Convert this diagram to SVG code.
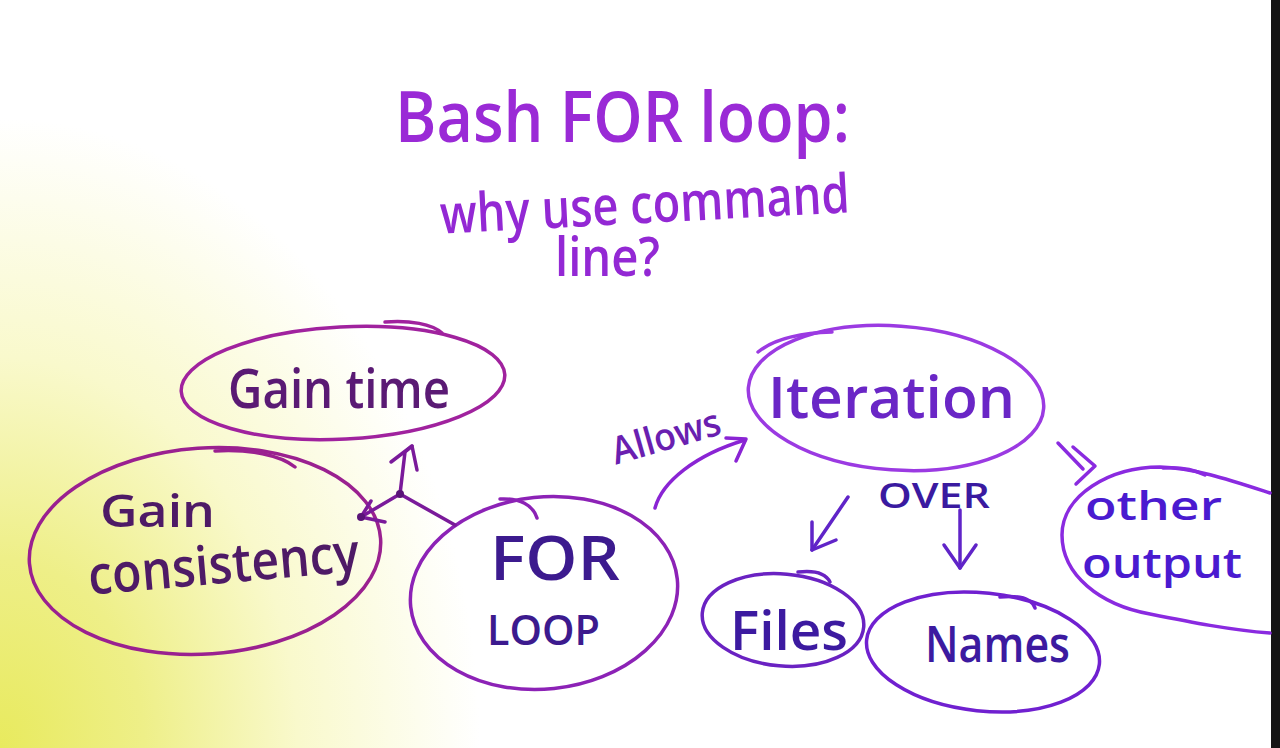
<svg xmlns="http://www.w3.org/2000/svg" width="1280" height="748" viewBox="0 0 1280 748">
<defs>
<radialGradient id="bg" gradientUnits="userSpaceOnUse" cx="0" cy="748" r="600" gradientTransform="translate(0,748) scale(0.8,1.05) translate(0,-748)">
<stop offset="0" stop-color="#e8ea5e"/>
<stop offset="0.3" stop-color="#eeef88"/>
<stop offset="0.62" stop-color="#f9f9cc"/>
<stop offset="1" stop-color="#ffffff"/>
</radialGradient>
<style>
.hand{font-family:"Open Sans","Liberation Sans",sans-serif;font-weight:600}
.node{fill:none;stroke-width:3.5;stroke-linecap:round;stroke-linejoin:round}
.conn{fill:none;stroke-width:3.5;stroke-linecap:round;stroke-linejoin:round}
</style>
</defs>
<rect width="1280" height="748" fill="#ffffff"/>
<rect width="1280" height="748" fill="url(#bg)"/>
<rect x="1271" y="0" width="9" height="748" fill="#151515"/>

<g id="title">
<text class="hand" x="395" y="142" font-size="70" fill="#9a2ad6" textLength="455" lengthAdjust="spacingAndGlyphs">Bash FOR loop:</text>
<text class="hand" x="440" y="223" font-size="54" fill="#9328d4" textLength="410" lengthAdjust="spacingAndGlyphs" transform="rotate(-3 645 210)">why use command</text>
<text class="hand" x="555" y="276" font-size="54" fill="#9328d4" textLength="105" lengthAdjust="spacingAndGlyphs">line?</text>
</g>

<g id="gain-time">
<ellipse class="node" cx="343" cy="383" rx="162" ry="56" stroke="#a0229e" transform="rotate(-3 343 383)"/>
<path class="node" d="M385,322 C410,320 432,324 442,333" stroke="#a0229e"/>
<text class="hand" x="228" y="408" font-size="54" fill="#5a1a74" textLength="222" lengthAdjust="spacingAndGlyphs">Gain time</text>
</g>

<g id="gain-consistency">
<ellipse class="node" cx="205" cy="551" rx="176" ry="103" stroke="#9a2090" transform="rotate(-4 205 551)"/>
<path class="node" d="M215,451 C250,449 280,455 295,467" stroke="#9a2090"/>
<text class="hand" x="100" y="527" font-size="46" fill="#4e1a66" textLength="115" lengthAdjust="spacingAndGlyphs">Gain</text>
<text class="hand" x="88" y="583" font-size="54" fill="#4e1a66" textLength="272" lengthAdjust="spacingAndGlyphs" transform="rotate(-5 224 570)">consistency</text>
</g>

<g id="for-loop">
<ellipse class="node" cx="544" cy="593" rx="134" ry="96" stroke="#8c22b6" transform="rotate(-6 544 593)"/>
<path class="node" d="M500,499 C520,498 533,505 537,518" stroke="#8c22b6"/>
<text class="hand" x="490" y="580" font-size="62" fill="#3c1a8e" textLength="130" lengthAdjust="spacingAndGlyphs">FOR</text>
<text class="hand" x="487" y="645" font-size="42" fill="#3c1a8e" textLength="113" lengthAdjust="spacingAndGlyphs">LOOP</text>
</g>

<g id="iteration">
<ellipse class="node" cx="896" cy="398" rx="148" ry="72" stroke="#9b3ae2" transform="rotate(4 896 398)"/>
<path class="node" d="M758,352 C775,338 800,333 832,332" stroke="#9b3ae2"/>
<text class="hand" x="768" y="418" font-size="58" fill="#6a26c6" textLength="247" lengthAdjust="spacingAndGlyphs">Iteration</text>
</g>

<g id="files">
<ellipse class="node" cx="783" cy="620" rx="81" ry="46" stroke="#6a22c2" transform="rotate(5 783 620)"/>
<path class="node" d="M798,572 C815,570 826,574 830,582" stroke="#6a22c2"/>
<text class="hand" x="730" y="650" font-size="54" fill="#3c1aa0" textLength="118" lengthAdjust="spacingAndGlyphs">Files</text>
</g>

<g id="names">
<ellipse class="node" cx="983" cy="652" rx="117" ry="59" stroke="#7020d0" transform="rotate(6 983 652)"/>
<path class="node" d="M1000,597 C1020,595 1032,599 1035,608" stroke="#7020d0"/>
<text class="hand" x="925" y="662" font-size="50" fill="#3c1aa0" textLength="145" lengthAdjust="spacingAndGlyphs">Names</text>
</g>

<g id="other-output">
<path class="node" d="M1270,493 C1230,480 1195,468 1160,467 C1110,467 1062,495 1062,535 C1062,575 1100,605 1150,614 C1190,622 1230,630 1270,633" stroke="#8a2ae0"/>
<path class="node" d="M1163,468 C1180,467 1195,470 1205,475" stroke="#8a2ae0"/>
<text class="hand" x="1085" y="520" font-size="40" fill="#4a1ad0" textLength="137" lengthAdjust="spacingAndGlyphs">other</text>
<text class="hand" x="1082" y="578" font-size="42" fill="#4a1ad0" textLength="160" lengthAdjust="spacingAndGlyphs">output</text>
</g>

<g id="connectors">
<g stroke="#7a1a9a">
<path class="conn" d="M455,525 L400,494"/>
<path class="conn" d="M400,494 L405,452 L412,446"/>
<path class="conn" d="M391,462 L412,446 L417,470"/>
<path class="conn" d="M400,494 L361,517"/>
<path class="conn" d="M371,501 L361,517 L385,522"/>
<circle cx="400" cy="494" r="4" fill="#5a1478" stroke="none"/>
<circle cx="361" cy="517" r="4" fill="#5a1478" stroke="none"/>
</g>
<g stroke="#8a24d4">
<path class="conn" d="M655,508 C662,482 695,455 745,440"/>
<path class="conn" d="M726,438 L746,439 L736,461"/>
</g>
<text class="hand" x="608" y="450" font-size="38" fill="#6a1fb0" textLength="112" lengthAdjust="spacingAndGlyphs" transform="rotate(-16 664 430)">Allows</text>
<text class="hand" x="878" y="508" font-size="34" fill="#3a1aa0" textLength="112" lengthAdjust="spacingAndGlyphs">OVER</text>
<g stroke="#6024c8">
<path class="conn" d="M848,497 L812,550"/>
<path class="conn" d="M812,522 L812,550 L836,540"/>
<path class="conn" d="M960,510 L960,568"/>
<path class="conn" d="M944,545 L960,568 L976,545"/>
</g>
<g stroke="#8a2ae0">
<path class="conn" d="M1058,443 L1083,469"/>
<path class="conn" d="M1073,447 L1095,466 L1076,484"/>
</g>
</g>
</svg>
